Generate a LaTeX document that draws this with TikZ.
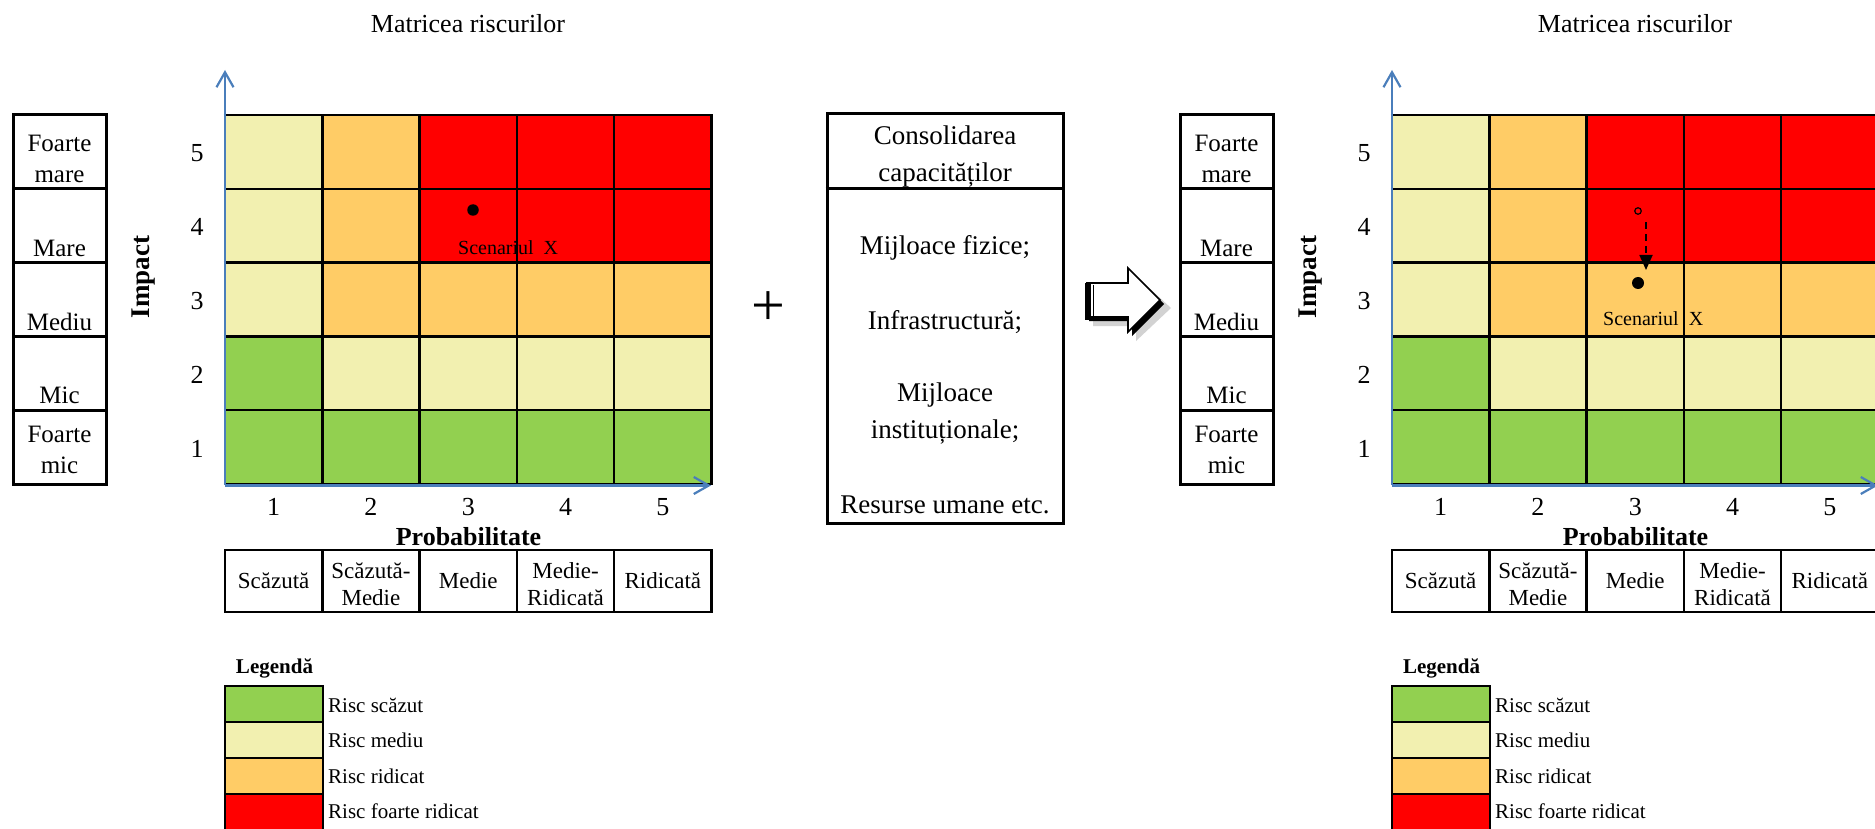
\documentclass[tikz,border=0pt]{standalone}
\usepackage{fontspec}
\setmainfont{Liberation Serif}
\usetikzlibrary{arrows.meta}
\definecolor{rgreen}{HTML}{92D050}
\definecolor{ryellow}{HTML}{F2F0B0}
\definecolor{rorange}{HTML}{FFCC66}
\definecolor{rred}{HTML}{FF0000}
\definecolor{axisblue}{HTML}{4A7EBB}
\newcommand\fsz[2]{\fontsize{#1}{#2}\selectfont}
\tikzset{
  lbl/.style={font=\fsz{25}{31}, align=center, inner sep=0pt},
  num/.style={font=\fsz{26}{30}, inner sep=0pt},
  tbl/.style={font=\fsz{23}{27}, align=center, inner sep=0pt},
  ttl/.style={font=\fsz{26}{30}, inner sep=0pt},
  axlbl/.style={font=\bfseries\fsz{27}{30}, inner sep=0pt},
  leglbl/.style={font=\fsz{21}{24}, inner sep=0pt, anchor=west},
  legttl/.style={font=\bfseries\fsz{21}{24}, inner sep=0pt},
  gridln/.style={line width=2.5pt, black},
  boxln/.style={line width=3pt, black},
  axisln/.style={line width=2.2pt, draw=axisblue, -{Straight Barb[length=15pt,width=17pt]}},
  scen/.style={font=\fsz{20}{24}, inner sep=0pt, anchor=west},
  boxtxt/.style={font=\fsz{27}{37}, align=center, inner sep=0pt},
}
% #1 prefix, #2 code under grid, #3 code over grid
\newcommand\riskpanel[3]{%
  \node[ttl] (#1-title) at (468,24) {Matricea riscurilor};
  \foreach \r/\lst in {0/{ryellow,rorange,rred,rred,rred},1/{ryellow,rorange,rred,rred,rred},2/{ryellow,rorange,rorange,rorange,rorange},3/{rgreen,ryellow,ryellow,ryellow,ryellow},4/{rgreen,rgreen,rgreen,rgreen,rgreen}}{
    \foreach \cl [count=\c from 0] in \lst {
      \fill[\cl] ({225+97.3*\c},{115+73.8*\r}) rectangle ({225+97.3*(\c+1)},{115+73.8*(\r+1)});
    }
  }
  #2
  \foreach \j in {0,...,5}{
    \draw[gridln] (223.75,{115+73.8*\j}) -- (712.75,{115+73.8*\j});
    \draw[gridln] ({225+97.3*\j},115) -- ({225+97.3*\j},484);
  }
  \draw[axisln] (225,485) -- (225,70);
  \draw[axisln] (225,485.5) -- (711,485.5);
  % impact labels column
  \draw[boxln] (13,115) rectangle (106,484);
  \foreach \j in {1,...,4}{
    \draw[boxln] (13,{115+73.8*\j}) -- (106,{115+73.8*\j});
  }
  \node[lbl] (#1-lab5) at (59.5,159) {Foarte\\mare};
  \node[lbl] (#1-lab4) at (59.5,248) {Mare};
  \node[lbl] (#1-lab3) at (59.5,322) {Mediu};
  \node[lbl] (#1-lab2) at (59.5,395) {Mic};
  \node[lbl] (#1-lab1) at (59.5,450) {Foarte\\mic};
  \node[axlbl, rotate=90] (#1-imp) at (144,277) {Impact};
  \foreach \i in {1,...,5}{
    \node[num] (#1-rn\i) at (197,{115+73.8*(5-\i)+38.5}) {\i};
    \node[num] (#1-cn\i) at ({225+97.3*(\i-0.5)},507) {\i};
  }
  \node[axlbl, font=\bfseries\fsz{26}{30}] (#1-prob) at (468.5,537) {Probabilitate};
  \draw[gridln] (225,550) rectangle (711.5,612);
  \foreach \j in {1,...,4}{
    \draw[gridln] ({225+97.3*\j},550) -- ({225+97.3*\j},612);
  }
  \node[tbl] (#1-p1) at ({225+97.3*0.5},581) {Scăzută};
  \node[tbl] (#1-p2) at ({225+97.3*1.5},584) {Scăzută-\\Medie};
  \node[tbl] (#1-p3) at ({225+97.3*2.5},581) {Medie};
  \node[tbl] (#1-p4) at ({225+97.3*3.5},584) {Medie-\\Ridicată};
  \node[tbl] (#1-p5) at ({225+97.3*4.5},581) {Ridicată};
  % legend
  \node[legttl] (#1-legt) at (274.5,668) {Legendă};
  \foreach \cl/\txt [count=\k from 0] in {rgreen/Risc scăzut,ryellow/Risc mediu,rorange/Risc ridicat,rred/Risc foarte ridicat}{
    \fill[\cl] (225,{686+36*\k}) rectangle (323,{686+36*(\k+1)});
    \node[leglbl] (#1-leg\k) at (328,{705+35.5*\k}) {\txt};
  }
  \draw[gridln] (225,686) rectangle (323,830);
  \foreach \k in {1,2,3}{\draw[gridln] (225,{686+36*\k}) -- (323,{686+36*\k});}
  #3
}
\begin{document}
\begin{tikzpicture}[x=1pt,y=-1pt]
\useasboundingbox (0,0) rectangle (1875,829);
\clip (0,0) rectangle (1875,829);
\fill[white] (0,0) rectangle (1875,829);
% left panel
\riskpanel{L}{%
  \node[scen] (L-scen) at (458,248) {Scenariul\hspace{0.5em}X};
}{%
  \node[circle, fill=black, inner sep=0pt, minimum size=11.5pt] (L-dot) at (473,210) {};
}
% plus
\node[font=\fsz{60}{66}, inner sep=0pt] (plus) at (768,309) {+};
% consolidation box
\node[draw, line width=3pt, minimum width=236pt, minimum height=409pt, inner sep=0pt] (cons) at (945,318.5) {};
\draw[boxln] (cons.west |- 0,189) -- (cons.east |- 0,189);
\node[boxtxt] (cons-t) at (945,157) {Consolidarea\\capacităților};
\node[boxtxt] (cons-a) at (945,248) {Mijloace fizice;};
\node[boxtxt] (cons-b) at (945,322) {Infrastructură;};
\node[boxtxt] (cons-c) at (945,414) {Mijloace\\instituționale;};
\node[boxtxt] (cons-d) at (945,505) {Resurse umane etc.};
% block arrow with shadow
\fill[black!35, opacity=0.5] (1093,291) -- (1136,291) -- (1136,276) -- (1171,308) -- (1136,341) -- (1136,326) -- (1093,326) -- cycle;
\fill[black] (1089,287) -- (1132,287) -- (1132,272) -- (1164,304) -- (1132,336) -- (1132,321) -- (1089,321) -- cycle;
\draw[black, line width=1.6pt, fill=white] (1087,283) -- (1128,283) -- (1128,268) -- (1160,300) -- (1128,332) -- (1128,317) -- (1087,317) -- cycle;
\fill[black] (1085,283) rectangle (1090.5,320);
\draw[black, line width=1.4pt] (1093.5,285) -- (1093.5,316);
% right panel
\begin{scope}[xshift=1167pt]
\riskpanel{R}{%
  \node[scen] (R-scen) at (436,319) {Scenariul\hspace{0.5em}X};
}{%
  \node[circle, draw=black, line width=1.2pt, inner sep=0pt, minimum size=6.5pt] (R-old) at (471,211) {};
  \coordinate (R-a1) at (479,222);
  \coordinate (R-a2) at (479,270);
  \draw[black, line width=1.8pt, dash pattern=on 7pt off 5pt, -{Triangle[length=15pt,width=13pt]}] (R-a1) -- (R-a2);
  \node[circle, fill=black, inner sep=0pt, minimum size=12pt] (R-dot) at (471,283) {};
}
\end{scope}
\end{tikzpicture}
\end{document}
